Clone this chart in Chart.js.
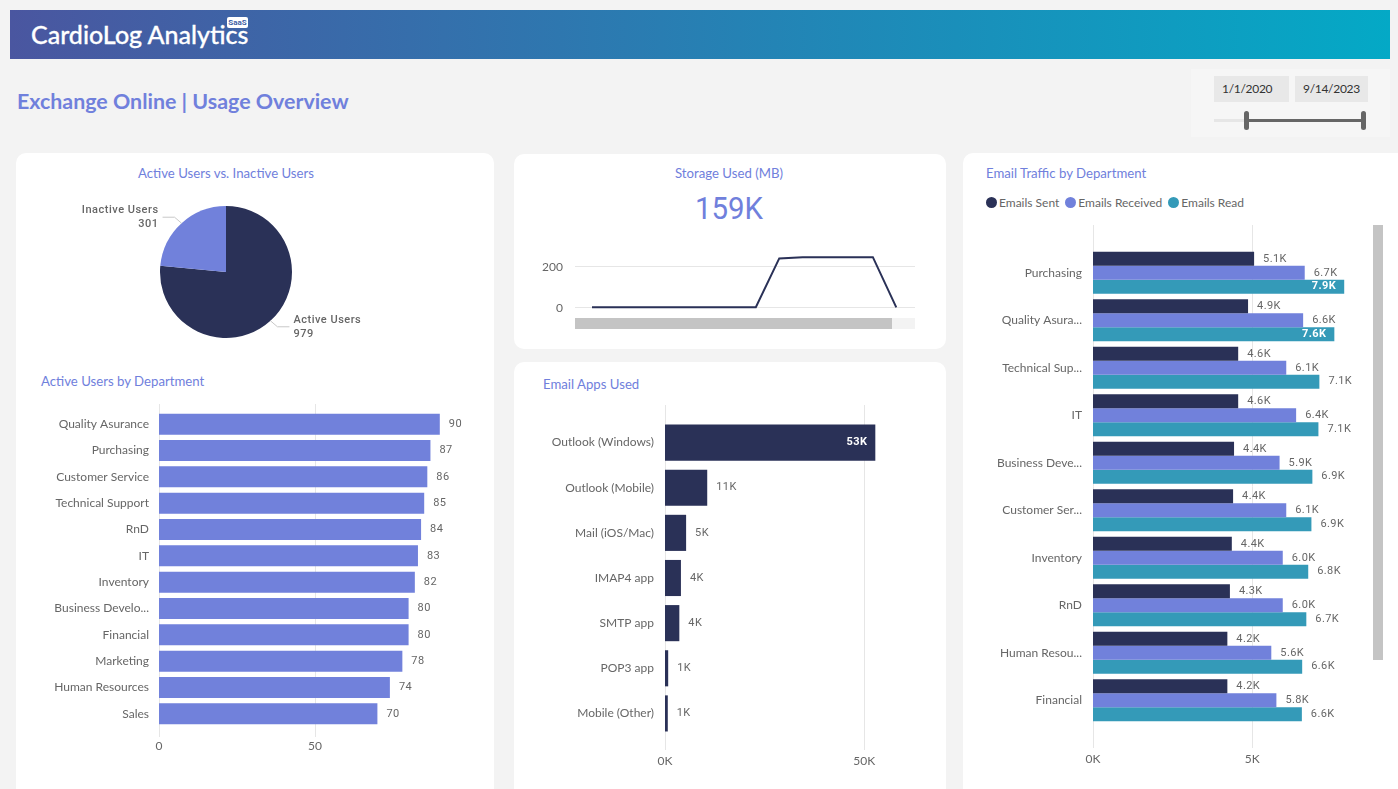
<!DOCTYPE html>
<html>
<head>
<meta charset="utf-8">
<title>Exchange Online | Usage Overview</title>
<script src="https://cdn.jsdelivr.net/npm/chart.js@4/dist/chart.umd.min.js"></script>
<style>
    html, body { margin: 0; padding: 0; width: 1398px; height: 789px; overflow: hidden; background: #f3f3f3; font-family: Lato, sans-serif; }
    .abs { position: absolute; }
    .banner { left: 10px; top: 10px; width: 1380px; height: 49px; background: linear-gradient(90deg, #4a56a0 0%, #04a9c6 100%); }
    .brand { left: 31px; top: 17px; color: #fff; font-size: 25px; font-weight: 500; line-height: 34px; white-space: nowrap; -webkit-text-stroke: 0.3px #fff; }
    .saas { left: 227px; top: 17px; width: 21px; height: 11px; background: #fff; border-radius: 2px; color: #3f5fa5; font: bold 8px/11px Roboto, sans-serif; text-align: center; }
    .page-title { left: 17px; top: 87px; color: #7080dc; font-size: 21.4px; font-weight: 700; line-height: 28px; white-space: nowrap; }
    .slicer { left: 1191px; top: 69px; width: 199px; height: 68px; background: #f6f6f6; }
    .date { top: 76px; height: 26px; background: #e8e8e8; color: #333; font-size: 12px; letter-spacing: -0.3px; line-height: 26px; padding-left: 8px; box-sizing: border-box; }
    .track { left: 1214px; top: 119px; width: 151px; height: 3px; background: #e6e6e6; }
    .range { left: 1246px; top: 119px; width: 117px; height: 3px; background: #666; }
    .handle { top: 111px; width: 5px; height: 19px; background: #666; border-radius: 3px; }
    .card { background: #fff; border-radius: 10px; }
    .card-title { color: #7080dc; font-size: 13.2px; line-height: 18px; white-space: nowrap; }
    .kpi { left: 514px; width: 430px; top: 187px; text-align: center; color: #7080dc; font: 32px/42px Roboto, sans-serif; transform: scaleX(0.92); }
    .legend { left: 986px; top: 195px; display: flex; color: #666; font-size: 12px; line-height: 15px; white-space: nowrap; }
    .legend span { display: flex; align-items: center; margin-right: 6px; }
    .legend i { display: block; width: 11px; height: 11px; border-radius: 50%; margin-right: 2px; }
    .scrollbar { left: 1373px; top: 225px; width: 10px; height: 435px; background: #c4c4c4; }
    .hbar-track { left: 575px; top: 318px; width: 340px; height: 11px; background: #f3f3f3; }
    .hbar-thumb { left: 575px; top: 318px; width: 317px; height: 11px; background: #c4c4c4; }
    canvas { position: absolute; display: block; }
</style>
</head>
<body>
<div class="abs banner"></div>
<div class="abs brand">CardioLog Analytics</div>
<div class="abs saas">SaaS</div>
<div class="abs page-title">Exchange Online | Usage Overview</div>

<div class="abs slicer"></div>
<div class="abs date" style="left:1214px;width:75px">1/1/2020</div>
<div class="abs date" style="left:1295px;width:73px">9/14/2023</div>
<div class="abs track"></div>
<div class="abs range"></div>
<div class="abs handle" style="left:1244px"></div>
<div class="abs handle" style="left:1361px"></div>

<div class="abs card" style="left:16px;top:153px;width:478px;height:660px"></div>
<div class="abs card" style="left:514px;top:154px;width:432px;height:195px"></div>
<div class="abs card" style="left:514px;top:362px;width:432px;height:450px"></div>
<div class="abs card" style="left:963px;top:153px;width:460px;height:660px"></div>

<div class="abs card-title" style="left:16px;width:420px;top:164px;text-align:center">Active Users vs. Inactive Users</div>
<div class="abs card-title" style="left:41px;top:372px">Active Users by Department</div>
<div class="abs card-title" style="left:514px;width:430px;top:164px;text-align:center">Storage Used (MB)</div>
<div class="abs kpi">159K</div>
<div class="abs card-title" style="left:543px;top:375px">Email Apps Used</div>
<div class="abs card-title" style="left:986px;top:164px">Email Traffic by Department</div>
<div class="abs legend" id="traffic-legend"></div>
<div class="abs scrollbar"></div>
<div class="abs hbar-track"></div>
<div class="abs hbar-thumb"></div>

<canvas id="pie-chart"></canvas>
<canvas id="dept-chart"></canvas>
<canvas id="storage-chart"></canvas>
<canvas id="apps-chart"></canvas>
<canvas id="traffic-chart"></canvas>

<script>
// Data
const pieLabels = ['Active Users', 'Inactive Users'];
const pieValues = [979, 301];

const deptLabels = ['Quality Asurance', 'Purchasing', 'Customer Service', 'Technical Support', 'RnD', 'IT', 'Inventory', 'Business Develo...', 'Financial', 'Marketing', 'Human Resources', 'Sales'];
const deptValues = [90, 87, 86, 85, 84, 83, 82, 80, 80, 78, 74, 70];
const deptTicks = [0, 50];

const storagePeriods = [0, 1, 2, 3, 4, 5, 6, 7, 8, 9, 10, 11, 12, 13];
const storageValues = [3, 3, 3, 3, 3, 3, 3, 3, 240, 246, 246, 246, 246, 2];
const storageTicks = [0, 200];

const appLabels = ['Outlook (Windows)', 'Outlook (Mobile)', 'Mail (iOS/Mac)', 'IMAP4 app', 'SMTP app', 'POP3 app', 'Mobile (Other)'];
const appValues = [52800, 10600, 5300, 4000, 3600, 800, 700];
const appTicks = [0, 50000];

const trafficLabels = ['Purchasing', 'Quality Asura...', 'Technical Sup...', 'IT', 'Business Deve...', 'Customer Ser...', 'Inventory', 'RnD', 'Human Resou...', 'Financial'];
const emailsSent = [5060, 4870, 4560, 4560, 4430, 4400, 4360, 4300, 4220, 4220];
const emailsReceived = [6650, 6600, 6070, 6380, 5860, 6070, 5960, 5960, 5600, 5760];
const emailsRead = [7890, 7580, 7110, 7080, 6890, 6860, 6760, 6700, 6570, 6560];
const trafficTicks = [0, 5000];

const NAVY = '#2a3157';
const BLUE = '#7181db';
const TEAL = '#349ab8';
const GRID = '#e6e6e6';
const AXIS_TEXT = '#666666';
const AXIS_FONT = { family: 'Lato', size: 12 };

Chart.defaults.animation = false;
Chart.defaults.responsive = false;
Chart.defaults.devicePixelRatio = 1;
Chart.defaults.plugins.legend.display = false;
Chart.defaults.plugins.tooltip.enabled = false;

function place(id, left, top, width, height) {
    const canvas = document.getElementById(id);
    canvas.style.left = left + 'px';
    canvas.style.top = top + 'px';
    canvas.width = width;
    canvas.height = height;
    return canvas;
}

// Gridlines run a bit past the bars, above and below
const longGrid = {
    id: 'longGrid',
    beforeDatasetsDraw(chart, args, opts) {
        const { ctx, scales } = chart;
        ctx.save();
        ctx.strokeStyle = GRID;
        ctx.lineWidth = 1;
        scales.x.ticks.forEach(t => {
            const x = Math.round(scales.x.getPixelForValue(t.value)) + 0.5;
            ctx.beginPath();
            ctx.moveTo(x, opts.top);
            ctx.lineTo(x, opts.bottom);
            ctx.stroke();
        });
        ctx.restore();
    }
};

// Value labels at the end of each bar, inside once the bar is long
const barValues = {
    id: 'barValues',
    afterDatasetsDraw(chart, args, opts) {
        const { ctx } = chart;
        ctx.save();
        ctx.letterSpacing = '0.4px';
        ctx.textBaseline = 'middle';
        chart.data.datasets.forEach((ds, i) => {
            chart.getDatasetMeta(i).data.forEach((bar, j) => {
                const value = ds.data[j];
                const inside = opts.insideFrom && value >= opts.insideFrom;
                ctx.font = inside ? 'bold 11px Roboto' : '11px Roboto';
                ctx.fillStyle = inside ? '#ffffff' : AXIS_TEXT;
                ctx.textAlign = inside ? 'right' : 'left';
                ctx.fillText(opts.format(value), bar.x + (inside ? -8 : opts.gap), bar.y);
            });
        });
        ctx.restore();
    }
};

// Pie callouts start from the middle of each slice
const pieCallouts = {
    id: 'pieCallouts',
    afterDatasetsDraw(chart) {
        const { ctx } = chart;
        ctx.save();
        ctx.font = '500 11px Roboto';
        ctx.letterSpacing = '0.5px';
        ctx.textBaseline = 'middle';
        chart.getDatasetMeta(0).data.forEach((arc, i) => {
            const mid = (arc.startAngle + arc.endAngle) / 2;
            const px = arc.x + Math.cos(mid) * arc.outerRadius;
            const py = arc.y + Math.sin(mid) * arc.outerRadius;
            const right = Math.cos(mid) > 0;
            const dir = right ? 1 : -1;
            const elbowY = py + (right ? 6 : -6);
            ctx.strokeStyle = '#c8c8c8';
            ctx.lineWidth = 1;
            ctx.beginPath();
            ctx.moveTo(px, py);
            ctx.lineTo(px + dir * 7, elbowY);
            ctx.lineTo(px + dir * 19, elbowY);
            ctx.stroke();
            ctx.fillStyle = AXIS_TEXT;
            ctx.textAlign = right ? 'left' : 'right';
            const tx = px + dir * 23;
            const ty = elbowY - 7;
            ctx.fillText(pieLabels[i], tx, ty);
            ctx.fillText(String(pieValues[i]), tx, ty + 14);
        });
        ctx.restore();
    }
};

function hBarChart(id, box, area, labels, datasets, xOpts, plugOpts) {
    const canvas = place(id, box.left, box.top, box.width, box.height);
    return new Chart(canvas, {
        type: 'bar',
        data: { labels, datasets },
        plugins: [longGrid, barValues],
        options: {
            indexAxis: 'y',
            layout: { padding: {
                top: area.top - box.top,
                right: box.left + box.width - area.right,
                left: 0,
                bottom: 0
            } },
            scales: {
                x: {
                    min: 0,
                    max: xOpts.max,
                    // stepSize gets rounded to fit max, so set the ticks directly
                    afterBuildTicks: s => { s.ticks = xOpts.ticks.map(value => ({ value })); },
                    afterFit: s => { s.height = box.top + box.height - area.bottom; },
                    grid: { display: false },
                    border: { display: false },
                    ticks: {
                        color: AXIS_TEXT,
                        font: AXIS_FONT,
                        padding: xOpts.pad,
                        maxRotation: 0,
                        autoSkip: false,
                        callback: xOpts.format
                    }
                },
                y: {
                    afterFit: s => { s.width = area.left - box.left; },
                    grid: { display: false },
                    border: { display: false },
                    ticks: { color: AXIS_TEXT, font: AXIS_FONT, padding: xOpts.labelPad, autoSkip: false }
                }
            },
            plugins: {
                longGrid: { top: xOpts.gridTop, bottom: xOpts.gridBottom },
                barValues: plugOpts
            }
        }
    });
}

// Pie
new Chart(place('pie-chart', 16, 190, 420, 164), {
    type: 'pie',
    data: {
        labels: pieLabels,
        datasets: [{ data: pieValues, backgroundColor: [NAVY, BLUE], borderWidth: 0, radius: 66 }]
    },
    plugins: [pieCallouts]
});

// Active users by department
hBarChart('dept-chart',
    { left: 16, top: 395, width: 470, height: 375 },
    { left: 159, right: 471, top: 411, bottom: 727 },
    deptLabels,
    [{ data: deptValues, backgroundColor: BLUE, categoryPercentage: 0.8, barPercentage: 1 }],
    { max: 100, ticks: deptTicks, pad: 4, labelPad: 2, gridTop: 9, gridBottom: 342, format: v => String(v) },
    { gap: 9, format: v => String(v) });

// Storage line
new Chart(place('storage-chart', 525, 231, 400, 96), {
    type: 'line',
    data: {
        datasets: [{
            data: storagePeriods.map((p, i) => ({ x: p, y: storageValues[i] })),
            borderColor: NAVY,
            borderWidth: 2,
            pointRadius: 0,
            tension: 0,
            clip: false
        }]
    },
    options: {
        layout: { padding: { top: 10, right: 10, bottom: 7 } },
        scales: {
            x: { type: 'linear', min: -0.726, max: 13.8, display: false },
            y: {
                min: 0,
                max: 280,
                afterBuildTicks: s => { s.ticks = storageTicks.map(value => ({ value })); },
                afterFit: s => { s.width = 50; },
                grid: { color: GRID, drawTicks: false },
                border: { display: false },
                ticks: { color: AXIS_TEXT, font: AXIS_FONT, padding: 12 }
            }
        }
    }
});

// Email apps
hBarChart('apps-chart',
    { left: 520, top: 400, width: 420, height: 375 },
    { left: 665, right: 904, top: 420, bottom: 736 },
    appLabels,
    [{ data: appValues, backgroundColor: NAVY, categoryPercentage: 0.8, barPercentage: 1 }],
    { max: 60000, ticks: appTicks, pad: 10, labelPad: 3, gridTop: 5, gridBottom: 350,
      format: v => (v / 1000) + 'K' },
    { gap: 9, insideFrom: 50000, format: v => (v / 1000).toFixed(0) + 'K' });

// Email traffic
hBarChart('traffic-chart',
    { left: 970, top: 220, width: 410, height: 555 },
    { left: 1093, right: 1370, top: 249, bottom: 724 },
    trafficLabels,
    [
        { label: 'Emails Sent', data: emailsSent, backgroundColor: NAVY, categoryPercentage: 0.884, barPercentage: 1 },
        { label: 'Emails Received', data: emailsReceived, backgroundColor: BLUE, categoryPercentage: 0.884, barPercentage: 1 },
        { label: 'Emails Read', data: emailsRead, backgroundColor: TEAL, categoryPercentage: 0.884, barPercentage: 1 }
    ],
    { max: 8700, ticks: trafficTicks, pad: 20, labelPad: 3, gridTop: 5, gridBottom: 528,
      format: v => (v / 1000) + 'K' },
    { gap: 9, insideFrom: 7500, format: v => (v / 1000).toFixed(1) + 'K' });

// Legend for the traffic chart
const legendEl = document.getElementById('traffic-legend');
[['Emails Sent', NAVY], ['Emails Received', BLUE], ['Emails Read', TEAL]].forEach(([name, color]) => {
    const item = document.createElement('span');
    item.innerHTML = `<i style="background:${color}"></i>${name}`;
    legendEl.appendChild(item);
});
</script>
</body>
</html>
